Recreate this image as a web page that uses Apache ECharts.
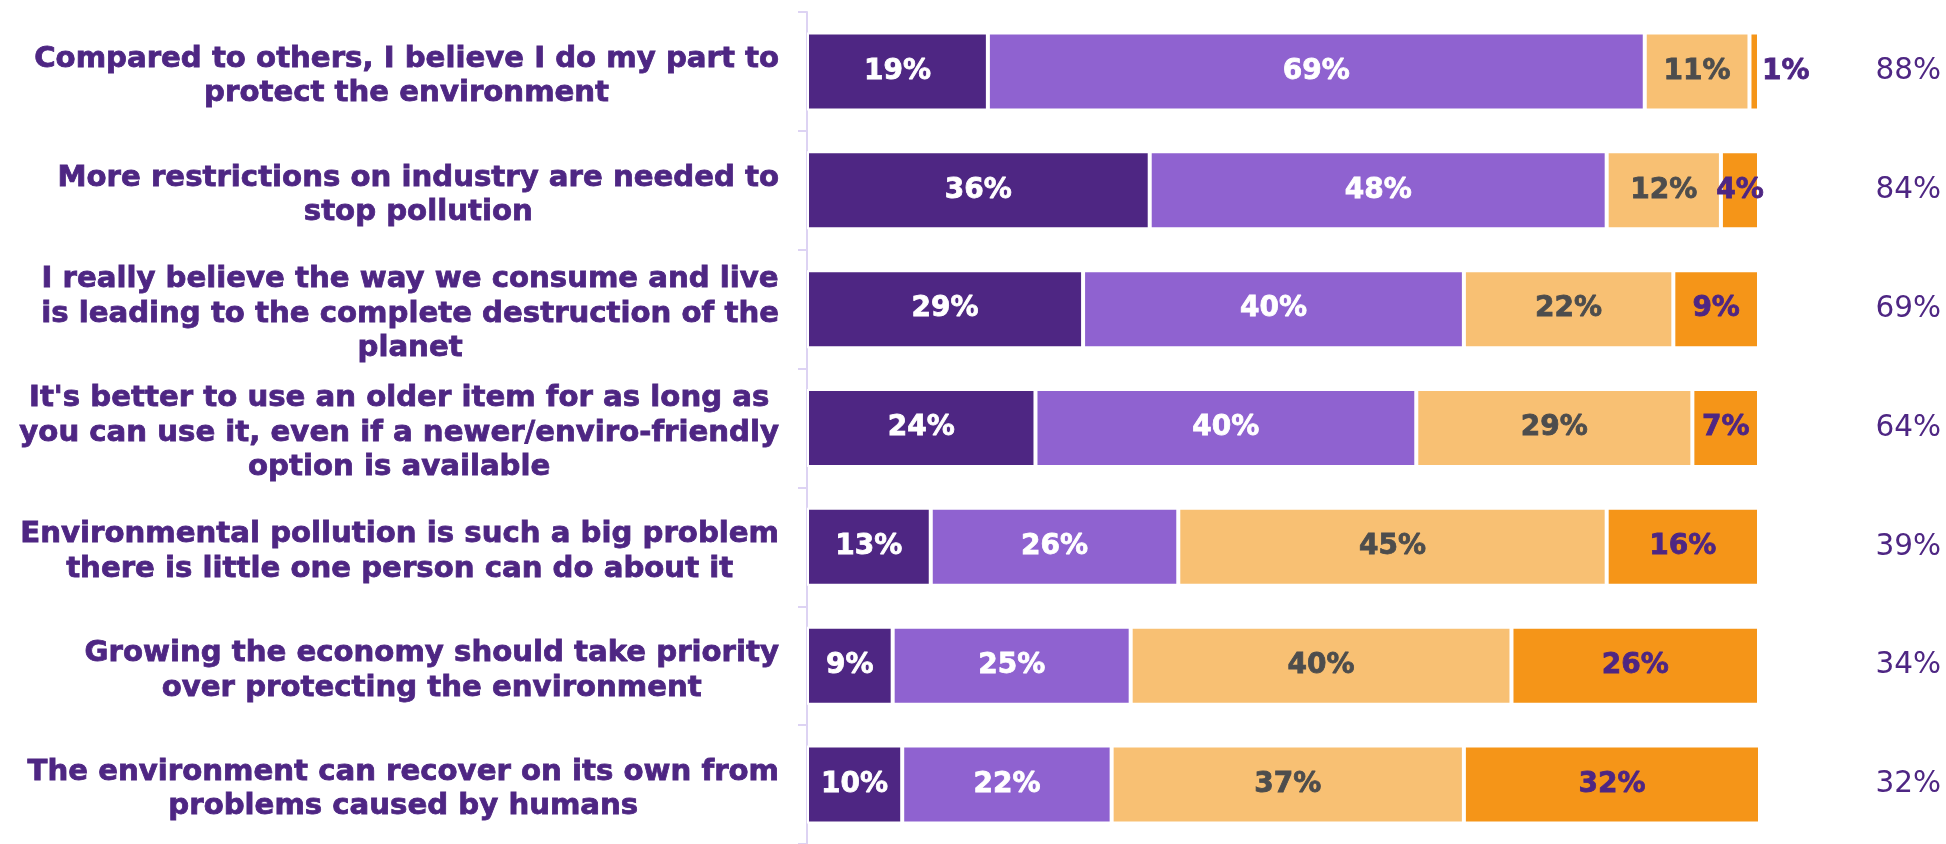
<!DOCTYPE html>
<html>
<head>
<meta charset="utf-8">
<style>
  html, body { margin: 0; padding: 0; background: #ffffff; }
  #chart { width: 1946px; height: 844px; }
</style>
<script src="https://cdn.jsdelivr.net/npm/echarts@6/dist/echarts.min.js"></script>
</head>
<body>
<div id="chart"></div>
<script>
// Survey statements (line breaks as they are set in the axis labels)
const statements = [
  "Compared to others, I believe I do my part to\nprotect the environment",
  "More restrictions on industry are needed to\nstop pollution",
  "I really believe the way we consume and live\nis leading to the complete destruction of the\nplanet",
  "It's better to use an older item for as long as\nyou can use it, even if a newer/enviro-friendly\noption is available",
  "Environmental pollution is such a big problem\nthere is little one person can do about it",
  "Growing the economy should take priority\nover protecting the environment",
  "The environment can recover on its own from\nproblems caused by humans"
];

// Share of respondents per answer (%)
const stronglyAgree    = [19, 36, 29, 24, 13, 9, 10];
const agree            = [69, 48, 40, 40, 26, 25, 22];
const disagree         = [11, 12, 22, 29, 45, 40, 37];
const stronglyDisagree = [1, 4, 9, 7, 16, 26, 32];

// Net agreement shown at the right edge
const totalAgree = stronglyAgree.map((v, i) => v + agree[i]);

const PURPLE_DARK = '#4E2683';
const PURPLE_MID = '#8F62D0';
const ORANGE_LIGHT = '#F8C073';
const ORANGE = '#F59518';
const TEXT_GREY = '#4D4D4D';

const chart = echarts.init(document.getElementById('chart'), null, { renderer: 'canvas' });

function segment(name, values, fill, labelColor) {
  return {
    name: name,
    type: 'bar',
    stack: 'all',
    barWidth: 78,
    yAxisIndex: 0,
    itemStyle: { color: fill, borderColor: '#ffffff', borderWidth: 2 },
    label: {
      show: true,
      position: 'inside',
      formatter: '{c}%',
      color: labelColor,
      fontFamily: 'DejaVu Sans',
      fontWeight: 'bold',
      fontSize: 28,
      textBorderColor: labelColor,
      textBorderWidth: 0.8,
      padding: [7, 0, 0, 0]
    },
    data: values.map(v => v < 3
      ? { value: v, label: { position: 'right', distance: 3 } }
      : v)
  };
}

const option = {
  backgroundColor: '#ffffff',
  animation: false,
  grid: { left: 807, top: 12, width: 952, height: 838, containLabel: false },
  xAxis: {
    type: 'value',
    min: 0,
    max: 100,
    show: false
  },
  yAxis: [
    {
      type: 'category',
      inverse: true,
      data: statements,
      axisLine: { show: true, lineStyle: { color: '#DDD3F3', width: 2 } },
      axisTick: { show: true, length: 9, lineStyle: { color: '#DDD3F3', width: 2 } },
      axisLabel: {
        margin: 28,
        align: 'right',
        padding: [10, 0, 0, 0],
        formatter: function (text) {
          return text.split('\n').map(l => '{c|' + l + '}').join('\n');
        },
        rich: {
          c: {
            align: 'center',
            color: PURPLE_DARK,
            fontFamily: 'DejaVu Sans',
            fontWeight: 'bold',
            fontSize: 29.2,
            lineHeight: 34.5,
            textBorderColor: PURPLE_DARK,
            textBorderWidth: 0.8
          }
        }
      }
    },
    {
      type: 'category',
      inverse: true,
      position: 'right',
      data: totalAgree.map(v => v + '%'),
      axisLine: { show: false },
      axisTick: { show: false },
      axisLabel: {
        margin: 182,
        align: 'right',
        padding: [9, 0, 0, 0],
        color: PURPLE_DARK,
        fontFamily: 'DejaVu Sans',
        fontWeight: 'normal',
        fontSize: 29.5
      }
    }
  ],
  series: [
    segment('Strongly agree', stronglyAgree, PURPLE_DARK, '#ffffff'),
    segment('Agree', agree, PURPLE_MID, '#ffffff'),
    segment('Disagree', disagree, ORANGE_LIGHT, TEXT_GREY),
    segment('Strongly disagree', stronglyDisagree, ORANGE, PURPLE_DARK)
  ]
};

chart.setOption(option);
</script>
</body>
</html>
